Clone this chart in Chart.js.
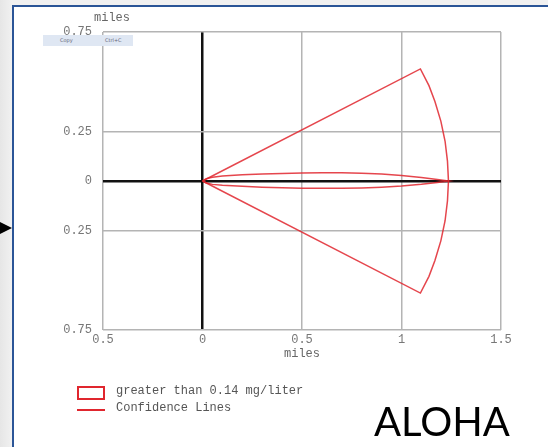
<!DOCTYPE html>
<html>
<head>
<meta charset="utf-8">
<script src="https://cdn.jsdelivr.net/npm/chart.js@4/dist/chart.umd.min.js"></script>
<style>
  html, body { margin:0; padding:0; }
  body { width:548px; height:447px; position:relative; overflow:hidden;
         background: linear-gradient(90deg, #e6e6e6, #f1f1f1 12px); }
  #frame { position:absolute; left:12px; top:5px; right:0; bottom:0; background:#fff;
           border-left:2px solid #2b5597; border-top:2px solid #2b5597; }
  #arrow { position:absolute; left:0; top:222px; width:0; height:0;
           border-top:6px solid transparent; border-bottom:6px solid transparent; border-left:12px solid #000; }
  #cv { position:absolute; left:0; top:0; }
  #copy { position:absolute; left:43px; top:35px; width:90px; height:11px; background:#dfe7f3;
          font:5px "DejaVu Sans", sans-serif; color:#667; }
  #copy span { position:absolute; top:2px; }
  .leg { position:absolute; font:12px "Liberation Mono", monospace; color:#555; white-space:nowrap; }
  #aloha { position:absolute; left:374px; top:397px; font:40px Lato, "Open Sans", sans-serif; color:#000; line-height:48px; }
</style>
</head>
<body>
<div id="frame"></div>
<div id="arrow"></div>
<canvas id="cv" width="548" height="447"></canvas>
<div id="copy"><span style="left:17px">Copy</span><span style="left:62px">Ctrl+C</span></div>
<div style="position:absolute;left:77px;top:386px;width:24px;height:10px;border:2px solid #e0262e;"></div>
<div style="position:absolute;left:77px;top:409px;width:28px;height:2px;background:#e0262e;"></div>
<div class="leg" style="left:116px;top:384px;">greater than 0.14 mg/liter</div>
<div class="leg" style="left:116px;top:401px;">Confidence Lines</div>
<div id="aloha">ALOHA</div>
<script>
// Tick values and labels
const xTicks = [-0.5, 0, 0.5, 1, 1.5];
const xTickLabels = ['0.5', '0', '0.5', '1', '1.5'];
const yTicks = [-0.75, -0.25, 0, 0.25, 0.75];
const yTickLabels = ['0.75', '0.25', '0', '0.25', '0.75'];

// Footprint (> 0.14 mg/liter), miles
const footX     = [0, 0.02, 0.05, 0.1, 0.2, 0.3, 0.4, 0.5, 0.6, 0.7, 0.8, 0.9, 1.0, 1.1, 1.18, 1.236];
const footUpper = [0, 0.012, 0.019, 0.025, 0.031, 0.035, 0.038, 0.040, 0.041, 0.041, 0.039, 0.035, 0.028, 0.018, 0.008, 0];
const footLower = [0, -0.010, -0.017, -0.022, -0.027, -0.031, -0.034, -0.036, -0.037, -0.037, -0.035, -0.031, -0.025, -0.016, -0.007, 0];

// Confidence lines outline, miles
const confX = [0, 1.095, 1.138, 1.168, 1.198, 1.219, 1.231, 1.236, 1.231, 1.219, 1.198, 1.168, 1.138, 1.095, 0];
const confY = [0, 0.564, 0.48, 0.40, 0.30, 0.20, 0.10, 0, -0.10, -0.20, -0.30, -0.40, -0.48, -0.564, 0];

const footPts = footX.map((x, i) => ({x, y: footUpper[i]}))
  .concat(footX.slice().reverse().map((x, i) => ({x, y: footLower[footLower.length - 1 - i]})));
const confPts = confX.map((x, i) => ({x, y: confY[i]}));

const FONT = {family: '"Liberation Mono", monospace', size: 12};
const RED = 'rgba(224,38,46,0.85)';

const yTitle = {
  id: 'yTitle',
  afterDraw(chart) {
    const c = chart.ctx;
    c.save();
    c.font = '12px "Liberation Mono", monospace';
    c.fillStyle = '#666';
    c.textAlign = 'center';
    c.textBaseline = 'middle';
    c.fillText('miles', 112, 18);
    c.restore();
  }
};

new Chart(document.getElementById('cv'), {
  type: 'scatter',
  data: {
    datasets: [
      { label: 'greater than 0.14 mg/liter', data: footPts, showLine: true, pointRadius: 0,
        borderColor: RED, borderWidth: 1.5, fill: false, tension: 0 },
      { label: 'Confidence Lines', data: confPts, showLine: true, pointRadius: 0,
        borderColor: RED, borderWidth: 1.5, fill: false, tension: 0 }
    ]
  },
  options: {
    responsive: false,
    animation: false,
    events: [],
    layout: { padding: { left: 0, right: 47, top: 32, bottom: 86 } },
    plugins: { legend: { display: false }, tooltip: { enabled: false } },
    scales: {
      x: {
        type: 'linear', min: -0.5, max: 1.5,
        afterBuildTicks: s => { s.ticks = xTicks.map(v => ({value: v})); },
        afterFit: s => { s.height = 31; },
        ticks: { font: FONT, color: '#777', padding: 3, maxRotation: 0,
                 callback: (v) => { const i = xTicks.indexOf(v); return i >= 0 ? xTickLabels[i] : ''; } },
        grid: { drawTicks: false,
                color: c => (c.tick && c.tick.value === 0) ? '#111' : '#b4b4b4',
                lineWidth: c => (c.tick && c.tick.value === 0) ? 2.5 : 1.5 },
        border: { display: false },
        title: { display: true, text: 'miles', font: FONT, color: '#666', padding: {top: 0, bottom: 0} }
      },
      y: {
        type: 'linear', min: -0.75, max: 0.75,
        afterBuildTicks: s => { s.ticks = yTicks.map(v => ({value: v})); },
        afterFit: s => { s.width = 103; },
        ticks: { font: FONT, color: '#777', padding: 11,
                 callback: (v) => { const i = yTicks.indexOf(v); return i >= 0 ? yTickLabels[i] : ''; } },
        grid: { drawTicks: false,
                color: c => (c.tick && c.tick.value === 0) ? '#111' : '#b4b4b4',
                lineWidth: c => (c.tick && c.tick.value === 0) ? 2.5 : 1.5 },
        border: { display: false }
      }
    }
  },
  plugins: [yTitle]
});
</script>
</body>
</html>
